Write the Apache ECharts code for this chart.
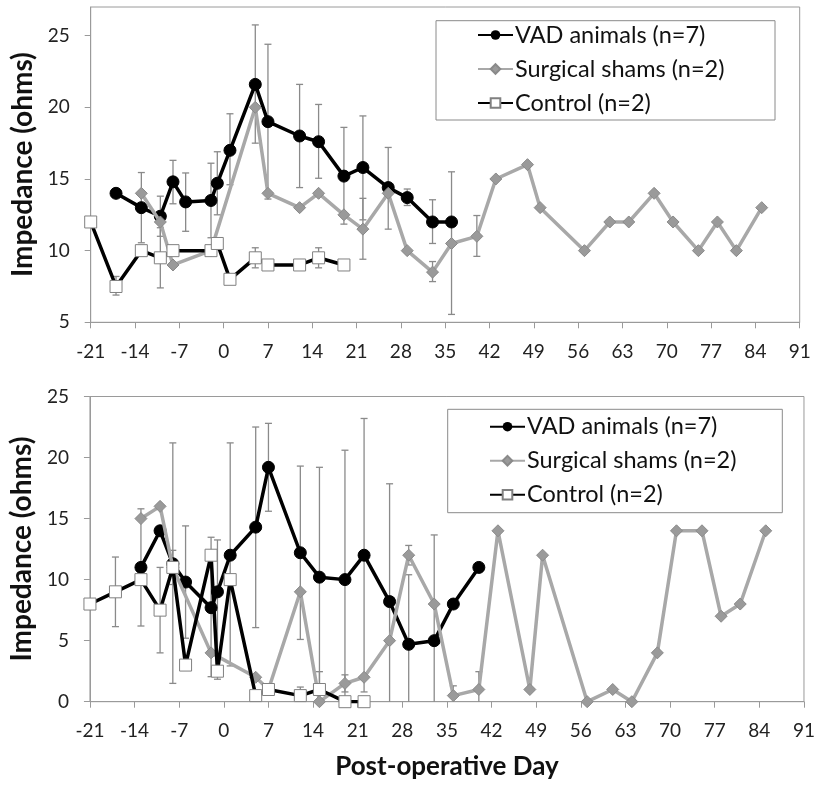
<!DOCTYPE html>
<html><head><meta charset="utf-8">
<script src="https://cdn.jsdelivr.net/npm/echarts@6/dist/echarts.min.js"></script>
<style>html,body{margin:0;padding:0;background:#fff}#c{width:818px;height:786px}</style>
</head><body><div id="c"></div>
<script>
// ---------- Top panel data ----------
const topVadDays  = [-17,-13,-10,-8,-6,-2,-1,1,5,7,12,15,19,22,26,29,33,36];
const topVad      = [14.0,13.0,12.4,14.8,13.4,13.5,14.7,17.0,21.6,19.0,18.0,17.6,15.2,15.8,14.4,13.7,12.0,12.0];
const topShamDays = [-13,-10,-8,-2,5,7,12,15,19,22,26,29,33,36,40,43,48,50,57,61,64,68,71,75,78,81,85];
const topSham     = [14,12,9,10,20,14,13,14,12.5,11.5,14,10,8.5,10.5,11,15,16,13,10,12,12,14,12,10,12,10,13];
const topCtrlDays = [-21,-17,-13,-10,-8,-2,-1,1,5,7,12,15,19];
const topCtrl     = [12,7.5,10,9.5,10,10,10.5,8,9.5,9,9,9.5,9];
// error bars: [day, low, high]
const topErrors = [
  [-13,10.55,15.45],[-10,11.0,13.8],[-8,13.27,16.3],[-6,11.35,15.42],[-2,10.9,16.1],[-1,12.5,16.9],
  [1,14.6,19.55],[5,17.5,25.75],[7,13.6,24.4],[12,14.4,21.6],[15,15.05,20.2],[19,11.85,18.6],
  [22,12.15,19.4],[26,11.5,17.2],[29,13.15,14.3],[33,10.5,13.55],
  [22,9.4,13.65],[33,7.84,9.24],[36,5.55,15.5],[40,9.6,12.45],
  [-17,6.9,8.2],[-10,7.4,11.6],[5,8.8,10.2],[15,8.8,10.2]
];

// ---------- Bottom panel data ----------
const botVadDays  = [-13,-10,-8,-6,-2,-1,1,5,7,12,15,19,22,26,29,33,36,40];
const botVad      = [11,14,11.3,9.8,7.7,9,12,14.3,19.2,12.2,10.2,10,12,8.2,4.7,5,8,11];
const botShamDays = [-13,-10,-8,-2,5,7,12,15,19,22,26,29,33,36,40,43,48,50,57,61,64,68,71,75,78,81,85];
const botSham     = [15,16,11,4,2,1,9,0,1.5,2,5,12,8,0.5,1,14,1,12,0,1,0,4,14,14,7,8,14];
const botCtrlDays = [-21,-17,-13,-10,-8,-6,-2,-1,1,5,7,12,15,19,22];
const botCtrl     = [8,9,10,7.5,11,3,12,2.5,10,0.5,1,0.5,1,0,0];
const botErrors = [
  [-13,6.2,15.8],[-8,1.5,21.2],[-6,5.2,14.4],[-2,2.05,13.47],[-1,1.84,13.25],[1,2.93,21.2],
  [5,6.07,22.5],[7,15.6,22.8],[12,5.1,19.3],[15,1.2,19.2],[19,-0.6,20.6],[22,0.8,23.2],
  [26,-1.4,17.85],[29,-1,10.4],[33,-3.7,13.66],
  [-8,9.6,12.4],[19,0.8,2.2],[29,11.2,12.8],[36,-0.3,1.3],[40,-0.5,2.46],
  [-17,6.15,11.85],[-10,4.0,11.0],[12,-0.2,1.2],[15,-0.46,2.46]
];

// ---------- Axis ticks / labels ----------
const xMin = -21, xMax = 91, xStep = 7;
const topYMin = 5, topYMax = 27, topYTicks = [5,10,15,20,25];
const botYMin = 0, botYMax = 25, yStep = 5;
const names = ['VAD animals (n=7)', 'Surgical shams (n=2)', 'Control (n=2)'];

const pair = (xs, ys) => xs.map((x, i) => [x, ys[i]]);
const FONT = 'Lato';
const AX = '#9a9a9a';

function xAxisCfg(gi, withName) {
  return {
    type: 'value', gridIndex: gi, min: xMin, max: xMax, interval: xStep,
    axisLine: { show: true, onZero: false, lineStyle: { color: AX, width: 1 } },
    axisTick: { show: true, inside: false, length: 6, lineStyle: { color: AX } },
    axisLabel: { fontFamily: FONT, fontSize: 19, color: '#222', margin: 20 },
    splitLine: { show: false },
    name: withName ? 'Post-operative Day' : '',
    nameLocation: 'middle', nameGap: 52,
    nameTextStyle: { fontFamily: FONT, fontWeight: 'bold', fontSize: 26, color: '#111' }
  };
}
function yAxisCfg(gi, min, max, ticks) {
  const c = {
    type: 'value', gridIndex: gi, min: min, max: max, interval: yStep,
    axisLine: { show: true, onZero: false, lineStyle: { color: AX, width: 1 } },
    axisTick: { show: true, inside: false, length: 6, lineStyle: { color: AX } },
    axisLabel: { fontFamily: FONT, fontSize: 19, color: '#222', margin: 21, showMaxLabel: true },
    splitLine: { show: false },
    name: 'Impedance (ohms)', nameLocation: 'middle', nameGap: 48,
    nameTextStyle: { fontFamily: FONT, fontWeight: 'bold', fontSize: 28, color: '#111' }
  };
  if (ticks) { c.axisLabel.customValues = ticks; c.axisTick.customValues = ticks; }
  return c;
}

function lineSeries(kind, gi, data) {
  const base = { type: 'line', xAxisIndex: gi, yAxisIndex: gi, data: data, name: names[kind],
                 animation: false, z: 3 + kind, symbolKeepAspect: true };
  if (kind === 0) return Object.assign(base, {
    symbol: 'circle', symbolSize: 12,
    lineStyle: { color: '#000', width: 3.5 }, itemStyle: { color: '#000', borderColor: '#000' } });
  if (kind === 1) return Object.assign(base, {
    symbol: 'diamond', symbolSize: 12,
    lineStyle: { color: '#a8a8a8', width: 3.5 }, itemStyle: { color: '#9a9a9a', borderColor: '#8a8a8a', borderWidth: 1 } });
  return Object.assign(base, {
    symbol: 'rect', symbolSize: 12,
    lineStyle: { color: '#000', width: 3.5 }, itemStyle: { color: '#fff', borderColor: '#808080', borderWidth: 1 } });
}

function errorSeries(gi, data) {
  return {
    type: 'custom', xAxisIndex: gi, yAxisIndex: gi, data: data, z: 2, silent: true, animation: false,
    encode: { x: 0, y: [1, 2] },
    renderItem: function (params, api) {
      const x = api.value(0), lo = api.value(1), hi = api.value(2);
      const pLo = api.coord([x, lo]), pHi = api.coord([x, hi]);
      const cs = params.coordSys;
      const top = cs.y, bot = cs.y + cs.height;
      const y1 = Math.max(pHi[1], top), y2 = Math.min(pLo[1], bot);
      const st = { stroke: '#8a8a8a', lineWidth: 1.3 };
      const ch = [{ type: 'line', shape: { x1: pLo[0], y1: y1, x2: pLo[0], y2: y2 }, style: st }];
      if (pHi[1] >= top) ch.push({ type: 'line', shape: { x1: pHi[0] - 3.5, y1: pHi[1], x2: pHi[0] + 3.5, y2: pHi[1] }, style: st });
      if (pLo[1] <= bot) ch.push({ type: 'line', shape: { x1: pLo[0] - 3.5, y1: pLo[1], x2: pLo[0] + 3.5, y2: pLo[1] }, style: st });
      return { type: 'group', children: ch };
    }
  };
}

function legendCfg(left, top) {
  return {
    orient: 'vertical', left: left, top: top, padding: 0, itemGap: 10,
    itemWidth: 35, itemHeight: 12, data: names, selectedMode: false,
    textStyle: { fontFamily: FONT, fontSize: 23.5, color: '#111', lineHeight: 24, padding: [0, 0, 0, -3] }
  };
}

const chart = echarts.init(document.getElementById('c'), null, { renderer: 'canvas' });
chart.setOption({
  animation: false,
  backgroundColor: '#fff',
  grid: [
    { left: 90.7, top: 7, width: 709, height: 315.3, show: true, borderColor: AX, borderWidth: 1, backgroundColor: 'transparent' },
    { left: 89.3, top: 396.5, width: 715.7, height: 305.2, show: true, borderColor: AX, borderWidth: 1, backgroundColor: 'transparent' }
  ],
  xAxis: [xAxisCfg(0, false), xAxisCfg(1, true)],
  yAxis: [yAxisCfg(0, topYMin, topYMax, topYTicks), yAxisCfg(1, botYMin, botYMax, null)],
  legend: [legendCfg(477, 23), legendCfg(489, 414.7)],
  graphic: [
    { type: 'rect', shape: { x: 436, y: 20.7, width: 339, height: 99.3 }, style: { fill: '#fff', stroke: '#8a8a8a', lineWidth: 1 }, z: 0 },
    { type: 'rect', shape: { x: 447.7, y: 409.3, width: 334.6, height: 103.4 }, style: { fill: '#fff', stroke: '#8a8a8a', lineWidth: 1 }, z: 0 }
  ],
  series: [
    errorSeries(0, topErrors),
    lineSeries(0, 0, pair(topVadDays, topVad)),
    lineSeries(1, 0, pair(topShamDays, topSham)),
    lineSeries(2, 0, pair(topCtrlDays, topCtrl)),
    errorSeries(1, botErrors),
    lineSeries(0, 1, pair(botVadDays, botVad)),
    lineSeries(1, 1, pair(botShamDays, botSham)),
    lineSeries(2, 1, pair(botCtrlDays, botCtrl))
  ]
});
</script></body></html>
